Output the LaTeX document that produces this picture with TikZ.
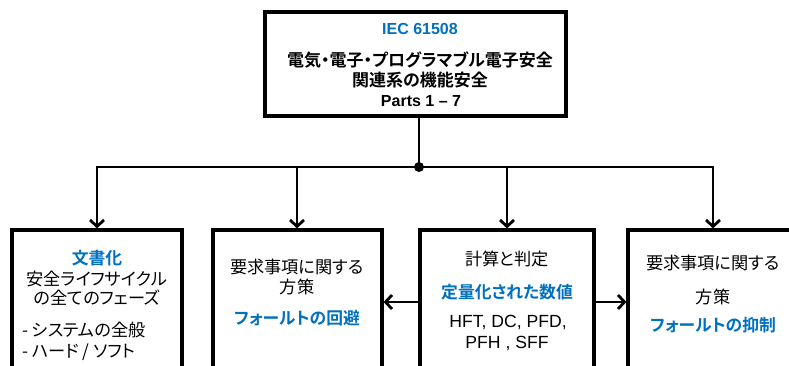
\documentclass[tikz,border=0pt]{standalone}
\usepackage{fontspec}
\usetikzlibrary{arrows.meta}
\setmainfont{Liberation Sans}
\newfontfamily\jp[RawFeature=+palt,BoldFont={Noto Sans CJK JP Bold}]{Noto Sans CJK JP}
\definecolor{ieblue}{RGB}{0,112,192}
\tikzset{
  x=1pt,y=-1pt,
  box/.style={draw=black,line width=3.2pt,fill=white,inner sep=0pt},
  conn/.style={line width=2.8pt,-{Straight Barb[length=6.5pt,width=14pt,line width=2.8pt]}},
  plain/.style={line width=2.8pt},
  jt/.style={font=\jp\fontsize{17.2}{19}\selectfont,inner sep=0pt,text=black},
  jb/.style={font=\jp\bfseries\fontsize{16.8}{19}\selectfont,inner sep=0pt,text=ieblue},
  jtb/.style={font=\jp\bfseries\fontsize{17}{19}\selectfont,inner sep=0pt,text=black},
  lt/.style={font=\fontsize{17.6}{19}\selectfont,inner sep=0pt,text=black},
  lb/.style={font=\bfseries\fontsize{16}{18}\selectfont,inner sep=0pt},
}
\begin{document}
\begin{tikzpicture}
\useasboundingbox (0,0) rectangle (789,365);
\clip (0,0) rectangle (789,365);
% boxes
\node[box,minimum width=301pt,minimum height=104pt] (top) at (415.5,64) {};
\node[box,minimum width=170pt,minimum height=200pt] (b1) at (97,330) {};
\node[box,minimum width=169pt,minimum height=200pt] (b2) at (297.5,330) {};
\node[box,minimum width=174pt,minimum height=200pt] (b3) at (507,330) {};
\node[box,minimum width=172pt,minimum height=200pt] (b4) at (714,330) {};
% junction
\coordinate (j) at (419,167);
\draw[plain] (top.south -| j) -- (j);
\draw[conn] (j) -| (b1.north);
\draw[conn] (j) -| ([xshift=-0.5pt]b2.north);
\draw[conn] (j) -| (b3.north);
\draw[conn] (j) -| ([xshift=-1pt]b4.north);
\fill (j) circle (5pt);
% horizontal arrows
\draw[conn] ([yshift=28pt]b3.west) -- ([yshift=28pt]b2.east);
\draw[conn] ([yshift=28pt]b3.east) -- ([yshift=28pt]b4.west);
% top texts
\node[lb,text=ieblue] (t1) at (420,29) {IEC 61508};
\node[jtb] (t2) at (420,60) {電気・電子・プログラマブル電子安全};
\node[jtb] (t3) at (420,80) {関連系の機能安全};
\node[lb] (t4) at (421,101) {Parts 1 – 7};
% box1
\node[jb] (a1) at (97,258) {文書化};
\node[jt] (a2) at (97,279) {安全ライフサイクル};
\node[jt] (a3) at (97,298) {の全てのフェーズ};
\node[jt,anchor=west] (a4) at (22,330) {- システムの全般};
\node[jt,anchor=west] (a5) at (22,352) {- ハード / ソフト};
% box2
\node[jt] (c1) at (297,267) {要求事項に関する};
\node[jt] (c2) at (297,287) {方策};
\node[jb] (c3) at (297,318) {フォールトの回避};
% box3
\node[jt] (d1) at (507,259) {計算と判定};
\node[jb] (d2) at (507,292) {定量化された数値};
\node[lt] (d3) at (508,322) {HFT, DC, PFD,};
\node[lt] (d4) at (507,343) {PFH , SFF};
% box4
\node[jt] (e1) at (713,263) {要求事項に関する};
\node[jt] (e2) at (713,297) {方策};
\node[jb] (e3) at (713,325) {フォールトの抑制};
\end{tikzpicture}
\end{document}
